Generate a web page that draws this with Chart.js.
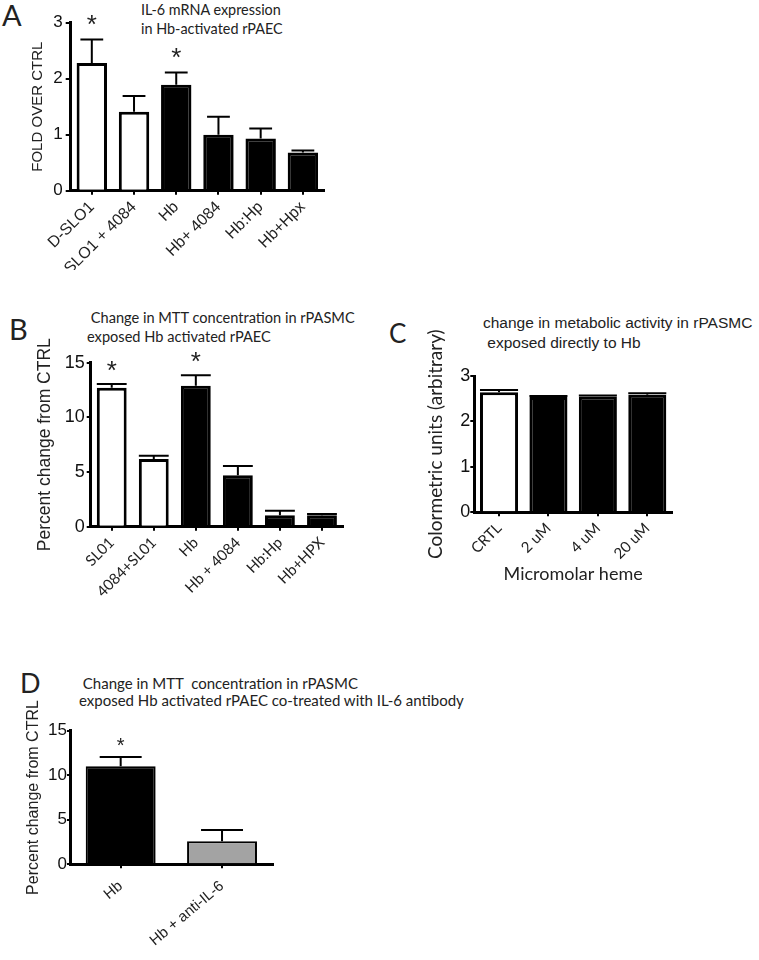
<!DOCTYPE html>
<html>
<head>
<meta charset="utf-8">
<script src="https://cdn.jsdelivr.net/npm/chart.js@4/dist/chart.umd.min.js"></script>
<style>
  body { margin: 0; background: #fff; }
  #page { position: relative; width: 759px; height: 960px; background: #fff; overflow: hidden; }
  canvas { position: absolute; }
  .lbl { position: absolute; font-family: Lato, "Open Sans", sans-serif; color: #222; white-space: pre; }
  .ttl { position: absolute; font-family: Lato, "Open Sans", sans-serif; color: #222; white-space: pre; font-size: 14.4px; line-height: 19px; }
  .ttlc { position: absolute; font-family: "Liberation Sans", Arial, sans-serif; color: #222; white-space: pre; font-size: 15.5px; line-height: 20px; }
</style>
</head>
<body>
<div id="page">
  <div class="lbl" style="left:2px;top:-3px;font-size:29px;">A</div>
  <div class="ttl" style="left:141px;top:0px;">IL-6 mRNA expression
in Hb-activated rPAEC</div>

  <div class="lbl" style="left:9px;top:311px;font-size:29px;">B</div>
  <div class="ttl" style="left:87px;top:309px;line-height:18.7px;font-size:14.6px;"> Change in MTT concentration in rPASMC
exposed Hb activated rPAEC</div>

  <div class="lbl" style="left:389px;top:317px;font-size:26px;">C</div>
  <div class="ttlc" style="left:483px;top:313px;">change in metabolic activity in rPASMC
 exposed directly to Hb</div>

  <div class="lbl" style="left:20px;top:666px;font-size:27px;">D</div>
  <div class="ttl" style="left:79px;top:675px;font-size:15px;line-height:16.5px;"> Change in MTT  concentration in rPASMC
exposed Hb activated rPAEC co-treated with IL-6 antibody</div>

  <canvas id="cA" width="335" height="270" style="left:0px;top:0px;"></canvas>
  <canvas id="cB" width="350" height="320" style="left:0px;top:290px;"></canvas>
  <canvas id="cC" width="300" height="310" style="left:380px;top:290px;"></canvas>
  <canvas id="cD" width="290" height="320" style="left:0px;top:640px;"></canvas>
</div>

<script>
// panel A: IL-6 mRNA expression
var labelsA = ['D-SLO1', 'SLO1 + 4084', 'Hb', 'Hb+ 4084', 'Hb:Hp', 'Hb+Hpx'];
var meanA = [2.28, 1.41, 1.89, 1.0, 0.93, 0.68];
var semA  = [0.42, 0.28, 0.22, 0.32, 0.18, 0.04];
var starA = ['*', '', '*', '', '', ''];
var ticksA = [0, 1, 2, 3];

// panel B: MTT in rPASMC exposed to activated rPAEC
var labelsB = ['SL01', '4084+SL01', 'Hb', 'Hb + 4084', 'Hb:Hp', 'Hb+HPX'];
var meanB = [12.7, 6.2, 12.9, 4.7, 1.05, 1.05];
var semB  = [0.35, 0.3, 0.95, 0.85, 0.42, 0.12];
var starB = ['*', '', '*', '', '', ''];
var ticksB = [0, 5, 10, 15];

// panel C: metabolic activity, direct Hb
var labelsC = ['CRTL', '2 uM', '4 uM', '20 uM'];
var meanC = [2.64, 2.54, 2.55, 2.59];
var semC  = [0.05, 0.02, 0.02, 0.03];
var ticksC = [0, 1, 2, 3];

// panel D: anti-IL-6 co-treatment
var labelsD = ['Hb', 'Hb + anti-IL-6'];
var meanD = [11.0, 2.6];
var semD  = [1.05, 1.25];
var starD = ['*', ''];
var ticksD = [0, 5, 10, 15];

var ARIAL = '"Liberation Sans", Arial, sans-serif';
var MYRIAD = 'Lato, "Open Sans", sans-serif';

// draws the upper half of the error bar plus the asterisk, off the chart's own scales
var errorBars = {
  id: 'errorBars',
  afterDatasetsDraw: function(chart, args, opts) {
    var ctx = chart.ctx;
    var meta = chart.getDatasetMeta(0);
    var y = chart.scales.y;
    ctx.save();
    ctx.strokeStyle = '#000';
    ctx.lineWidth = opts.lineWidth || 2;
    meta.data.forEach(function(bar, i) {
      var top = y.getPixelForValue(opts.mean[i] + opts.sem[i]);
      var half = bar.width * opts.cap / 2;
      ctx.beginPath();
      ctx.moveTo(bar.x, bar.y);
      ctx.lineTo(bar.x, top);
      ctx.moveTo(bar.x - half, top);
      ctx.lineTo(bar.x + half, top);
      ctx.stroke();
      if (opts.stars && opts.stars[i]) {
        ctx.fillStyle = '#222';
        ctx.font = opts.starFont;
        ctx.textAlign = 'center';
        ctx.textBaseline = 'middle';
        ctx.fillText(opts.stars[i], bar.x, top - opts.starGap);
      }
    });
    ctx.restore();
  }
};

function panel(id, p) {
  return new Chart(document.getElementById(id), {
    type: 'bar',
    data: {
      labels: p.labels,
      datasets: [{
        data: p.mean,
        backgroundColor: p.fill,
        borderColor: '#000',
        borderWidth: p.bw,
        borderSkipped: 'bottom',
        barPercentage: p.barPct,
        categoryPercentage: 1
      }]
    },
    options: {
      responsive: false,
      animation: false,
      devicePixelRatio: 1,
      layout: { padding: p.pad },
      plugins: {
        legend: { display: false },
        tooltip: { enabled: false },
        errorBars: { mean: p.mean, sem: p.sem, stars: p.stars, cap: p.cap, starFont: p.starFont, starGap: p.starGap, lineWidth: 2 }
      },
      scales: {
        x: {
          offset: true,
          grid: { offset: false, drawOnChartArea: false, tickLength: 4, lineWidth: 2, color: '#000' },
          border: { color: '#000', width: 3 },
          ticks: { color: '#222', font: { family: p.xFont, size: p.xSize }, maxRotation: p.rot, minRotation: p.rot, autoSkip: false, padding: p.xPad },
          title: p.xTitle ? { display: true, text: p.xTitle, color: '#222', font: { family: MYRIAD, size: 18 }, padding: { top: 0, bottom: p.xTitlePad } } : { display: false },
          afterFit: function(s) { s.height = p.xH; s.paddingLeft = 0; s.paddingRight = 0; }
        },
        y: {
          min: 0,
          max: p.ticks[p.ticks.length - 1],
          afterBuildTicks: function(s) { s.ticks = p.ticks.map(function(v) { return { value: v }; }); },
          grid: { drawOnChartArea: false, tickLength: p.yTick, lineWidth: 2, color: '#000' },
          border: { color: '#000', width: 3 },
          ticks: { color: '#111', font: { family: ARIAL, size: p.ySize }, padding: p.yPad },
          title: { display: true, text: p.yTitle, color: '#222', font: { family: p.yTitleFont, size: p.yTitleSize, lineHeight: 1.2 }, padding: { top: p.yTitlePad, bottom: 0 } },
          afterFit: function(s) { s.width = p.yW; s.paddingTop = 0; s.paddingBottom = 0; }
        }
      }
    },
    plugins: [errorBars]
  });
}

panel('cA', {
  labels: labelsA, mean: meanA, sem: semA, stars: starA, ticks: ticksA,
  fill: ['#fff', '#fff', '#000', '#000', '#000', '#000'], bw: 3, barPct: 0.72, cap: 0.75,
  pad: { left: 0, top: 22.7, right: 11, bottom: 0 }, yW: 70.7, xH: 79.3,
  xFont: ARIAL, xSize: 16, rot: 45, xPad: 3, ySize: 17, yTick: 5, yPad: 3,
  yTitle: 'FOLD OVER CTRL', yTitleFont: ARIAL, yTitleSize: 15, yTitlePad: 29,
  starFont: '26px ' + ARIAL, starGap: 14
});

panel('cB', {
  labels: labelsB, mean: meanB, sem: semB, stars: starB, ticks: ticksB,
  fill: ['#fff', '#fff', '#000', '#000', '#000', '#000'], bw: 3, barPct: 0.71, cap: 1,
  pad: { left: 0, top: 72.7, right: 7, bottom: 0 }, yW: 90.7, xH: 83.3,
  xFont: MYRIAD, xSize: 15, rot: 45, xPad: 3, ySize: 18, yTick: 4, yPad: 2,
  yTitle: 'Percent change from CTRL', yTitleFont: ARIAL, yTitleSize: 17.5, yTitlePad: 34.5,
  starFont: '26px ' + ARIAL, starGap: 12
});

panel('cC', {
  labels: labelsC, mean: meanC, sem: semC, stars: null, ticks: ticksC,
  fill: ['#fff', '#000', '#000', '#000'], bw: 3, barPct: 0.77, cap: 1,
  pad: { left: 0, top: 86, right: 8, bottom: 0 }, yW: 94.3, xH: 87.7,
  xFont: MYRIAD, xSize: 15, rot: 45, xPad: 3, ySize: 18, yTick: 4, yPad: 0,
  xTitle: 'Micromolar heme', xTitlePad: 15,
  yTitle: 'Colormetric units (arbitrary)', yTitleFont: MYRIAD, yTitleSize: 19, yTitlePad: 44.6,
  starFont: '20px ' + ARIAL, starGap: 10
});

panel('cD', {
  labels: labelsD, mean: meanD, sem: semD, stars: starD, ticks: ticksD,
  fill: ['#000', '#a3a3a3'], bw: 2, barPct: 0.69, cap: 0.6,
  pad: { left: 0, top: 90.7, right: 17.3, bottom: 0 }, yW: 70, xH: 95.7,
  xFont: ARIAL, xSize: 15, rot: 40, xPad: 9, ySize: 17, yTick: 3, yPad: 0,
  yTitle: 'Percent change from CTRL', yTitleFont: ARIAL, yTitleSize: 16, yTitlePad: 24,
  starFont: '20px ' + ARIAL, starGap: 10
});
</script>
</body>
</html>
